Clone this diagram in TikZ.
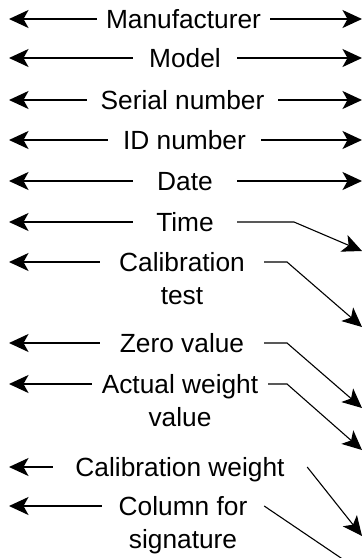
\documentclass[tikz,border=0pt]{standalone}
\usepackage{fontspec}
\setmainfont{Liberation Sans}
\usetikzlibrary{arrows.meta}
\tikzset{
  lab/.style={font=\fontsize{26.3}{33}\selectfont, anchor=base, inner sep=0pt, minimum height=0pt},
  arr/.style={draw=black, line width=1.3pt, -{Stealth[length=19.5pt, width=18pt, inset=5pt]}},
  diag/.style={draw=black, line width=1.1pt, -{Stealth[length=19.5pt, width=18pt, inset=5pt]}},
  plain/.style={draw=black, line width=1.1pt}
}
\newcommand{\twol}[2]{\begin{tabular}[t]{@{}c@{}}#1\\#2\end{tabular}}
\begin{document}
\begin{tikzpicture}[x=1pt,y=-1pt]
\useasboundingbox (0,0) rectangle (364,558);
\clip (0,0) rectangle (364,558);
% label nodes (baseline ~9.5 below the connector line)
\node[lab, minimum width=173pt] (man) at (183.5,28.5) {Manufacturer};
\node[lab, minimum width=104pt] (mod) at (185,67.5) {Model};
\node[lab, minimum width=191pt] (ser) at (182.5,109.5) {Serial number};
\node[lab, minimum width=153pt] (idn) at (184.5,149.5) {ID number};
\node[lab, minimum width=104pt] (dat) at (185,190.5) {Date};
\node[lab, minimum width=104pt] (tim) at (185,231.5) {Time};
\node[lab, minimum width=164pt] (cal) at (182,271.5) {\twol{Calibration}{test}};
\node[lab, minimum width=164pt] (zer) at (182,352.5) {Zero value};
\node[lab, minimum width=176pt] (act) at (180,393.5) {\twol{Actual weight}{value}};
\node[lab, minimum width=254pt] (cwt) at (180,476.5) {Calibration weight};
\node[lab, minimum width=162pt] (col) at (183,515.5) {\twol{Column for}{signature}};
% free ends on the left
\coordinate (l1) at (9,19);
\coordinate (l2) at (9,58);
\coordinate (l3) at (9,100);
\coordinate (l4) at (9,140);
\coordinate (l5) at (9,181);
\coordinate (l6) at (9,222);
\coordinate (l7) at (9,262);
\coordinate (l8) at (9,343);
\coordinate (l9) at (9,384);
\coordinate (l10) at (9,467);
\coordinate (l11) at (9,506);
% free ends on the right
\coordinate (r1) at (362,19);
\coordinate (r2) at (362,58);
\coordinate (r3) at (362,100);
\coordinate (r4) at (362,140);
\coordinate (r5) at (362,181);
\coordinate (b6) at (294,222);
\coordinate (r6) at (362,251);
\coordinate (b7) at (287,262);
\coordinate (r7) at (362,327);
\coordinate (b8) at (287,343);
\coordinate (r8) at (362,408);
\coordinate (b9) at (287,384);
\coordinate (r9) at (362,450);
\coordinate (r10) at (362,536);
\coordinate (r11) at (372,579);
% left arrows
\draw[arr] (man.west |- l1) -- (l1);
\draw[arr] (mod.west |- l2) -- (l2);
\draw[arr] (ser.west |- l3) -- (l3);
\draw[arr] (idn.west |- l4) -- (l4);
\draw[arr] (dat.west |- l5) -- (l5);
\draw[arr] (tim.west |- l6) -- (l6);
\draw[arr] (cal.west |- l7) -- (l7);
\draw[arr] (zer.west |- l8) -- (l8);
\draw[arr] (act.west |- l9) -- (l9);
\draw[arr] (cwt.west |- l10) -- (l10);
\draw[arr] (col.west |- l11) -- (l11);
% right arrows
\draw[arr] (man.east |- r1) -- (r1);
\draw[arr] (mod.east |- r2) -- (r2);
\draw[arr] (ser.east |- r3) -- (r3);
\draw[arr] (idn.east |- r4) -- (r4);
\draw[arr] (dat.east |- r5) -- (r5);
\draw[diag] (tim.east |- b6) -- (b6) -- (r6);
\draw[diag] (cal.east |- b7) -- (b7) -- (r7);
\draw[diag] (zer.east |- b8) -- (b8) -- (r8);
\draw[diag] (act.east |- b9) -- (b9) -- (r9);
\draw[diag] (cwt.east |- l10) -- (r10);
\draw[plain] (col.east |- l11) -- (r11);
\end{tikzpicture}
\end{document}
